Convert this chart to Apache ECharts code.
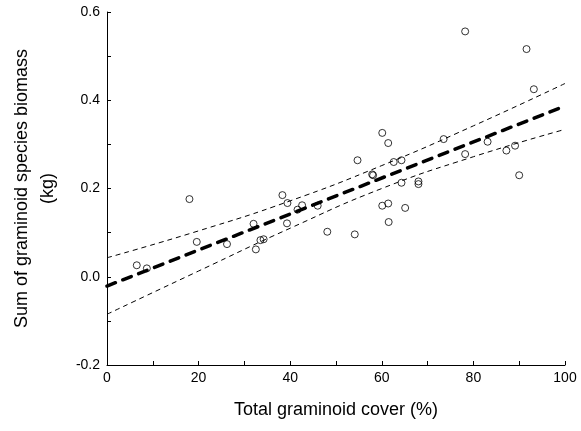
<!DOCTYPE html>
<html>
<head>
<meta charset="utf-8">
<script src="https://cdn.jsdelivr.net/npm/echarts@6/dist/echarts.min.js"></script>
<style>html,body{margin:0;padding:0;background:#fff}#c{width:581px;height:431px}</style>
</head>
<body>
<div id="c"></div>
<script>
// Observed points
var coverX = [6.5, 8.7, 18.0, 19.6, 26.2, 32.0, 32.5, 33.5, 34.2, 38.3, 39.3, 39.4, 41.6, 42.6, 46.0, 48.1, 54.1, 54.7, 57.9, 58.1, 60.1, 60.1, 61.4, 61.4, 61.5, 62.6, 64.3, 64.3, 65.1, 68.0, 68.0, 73.5, 78.2, 78.2, 83.1, 87.2, 89.1, 90.0, 91.6, 93.2];
var biomassY = [0.026, 0.019, 0.176, 0.079, 0.074, 0.120, 0.062, 0.083, 0.085, 0.185, 0.121, 0.167, 0.152, 0.162, 0.161, 0.102, 0.096, 0.264, 0.232, 0.230, 0.326, 0.161, 0.303, 0.166, 0.124, 0.260, 0.264, 0.213, 0.156, 0.216, 0.210, 0.312, 0.556, 0.278, 0.306, 0.286, 0.297, 0.230, 0.516, 0.425];
// Regression line endpoints
var fitX = [0, 100];
var fitY = [-0.021, 0.387];
// Confidence band
var bandX = [0, 20, 40, 60, 80, 100];
var bandUpper = [0.043, 0.104, 0.172, 0.252, 0.342, 0.438];
var bandLower = [-0.085, 0.013, 0.110, 0.200, 0.272, 0.334];

function zip(a, b) { return a.map(function (v, i) { return [v, b[i]]; }); }

var chart = echarts.init(document.getElementById('c'));
var font = 'Liberation Sans, Arial, sans-serif';
chart.setOption({
  animation: false,
  backgroundColor: '#fff',
  grid: { left: 107, right: 16, top: 12, bottom: 66, containLabel: false, outerBoundsMode: 'none' },
  xAxis: {
    type: 'value', min: 0, max: 100, interval: 10,
    name: 'Total graminoid cover (%)', nameLocation: 'middle', nameGap: 36,
    nameTextStyle: { fontFamily: font, fontSize: 18, color: '#000' },
    axisLine: { onZero: false, lineStyle: { color: '#000', width: 1 } },
    axisTick: { inside: true, length: 4, lineStyle: { color: '#000' } },
    axisLabel: { fontFamily: font, fontSize: 14, color: '#000', margin: 6,
      formatter: function (v) { return (Math.round(v) % 20 === 0) ? String(v) : ''; } },
    splitLine: { show: false }
  },
  yAxis: {
    type: 'value', min: -0.2, max: 0.6, interval: 0.1,
    name: 'Sum of graminoid species biomass\n(kg)', nameLocation: 'middle', nameGap: 46,
    nameRotate: 90,
    nameTextStyle: { fontFamily: font, fontSize: 18, color: '#000', lineHeight: 26, align: 'center' },
    axisLine: { onZero: false, lineStyle: { color: '#000', width: 1 } },
    axisTick: { inside: true, length: 4, lineStyle: { color: '#000' } },
    axisLabel: { fontFamily: font, fontSize: 14, color: '#000', margin: 7,
      formatter: function (v) { var k = Math.round(v * 10); return (k % 2 === 0) ? v.toFixed(1) : ''; } },
    splitLine: { show: false }
  },
  series: [
    { type: 'line', data: zip(bandX, bandUpper), smooth: true, symbol: 'none',
      lineStyle: { color: '#000', width: 1, type: [5, 4] }, z: 2 },
    { type: 'line', data: zip(bandX, bandLower), smooth: true, symbol: 'none',
      lineStyle: { color: '#000', width: 1, type: [5, 4] }, z: 2 },
    { type: 'line', data: zip(fitX, fitY), symbol: 'none',
      lineStyle: { color: '#000', width: 3.5, type: [9, 8], cap: 'round' }, z: 3 },
    { type: 'scatter', data: zip(coverX, biomassY), symbol: 'circle', symbolSize: 7,
      itemStyle: { color: 'rgba(255,255,255,0)', borderColor: '#000', borderWidth: 1 }, z: 4 }
  ]
});
</script>
</body>
</html>
